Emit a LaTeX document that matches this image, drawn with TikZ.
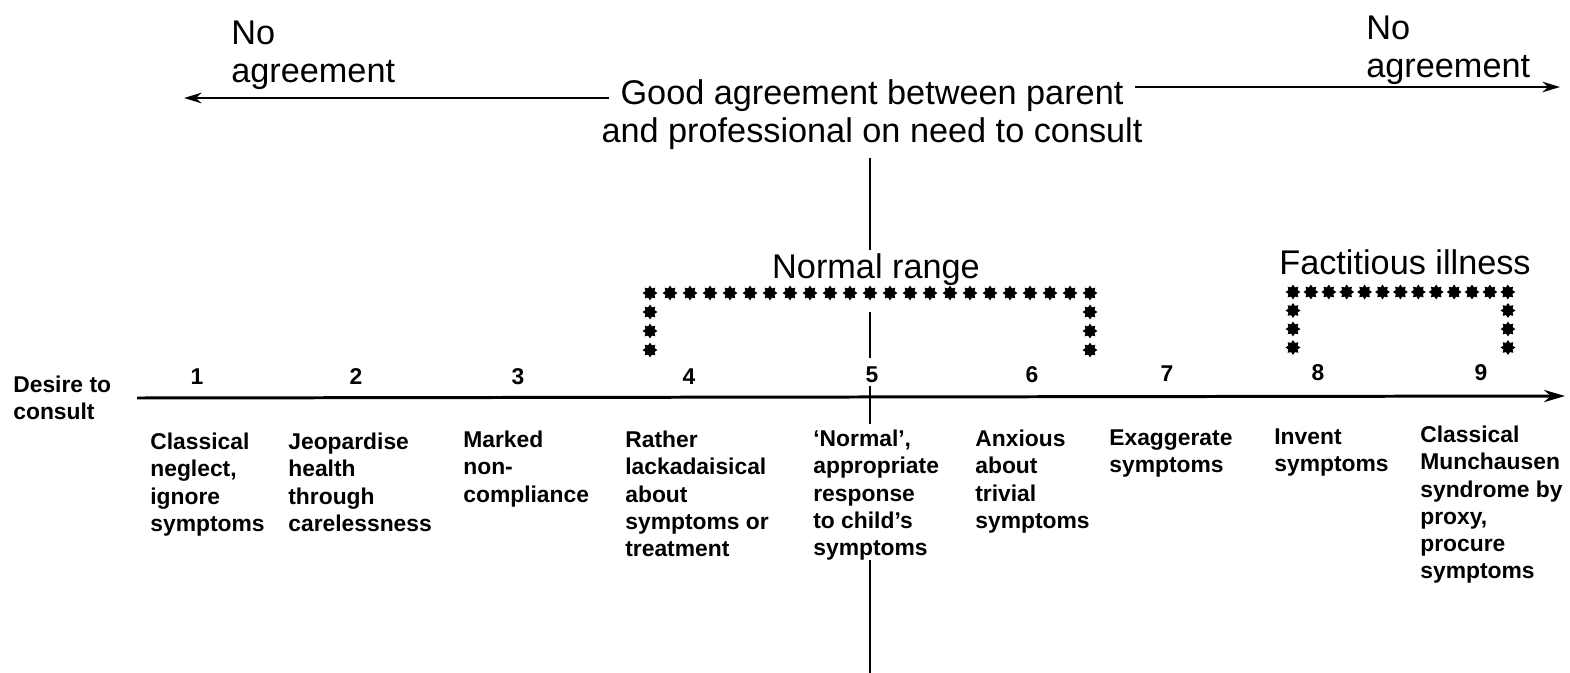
\documentclass[tikz,border=0pt]{standalone}
\usepackage{fontspec}
\setmainfont{Liberation Sans}
\usetikzlibrary{shapes.geometric,arrows.meta}

\tikzset{
  starmark/.style={star, star points=8, star point ratio=1.5, fill, draw=none, inner sep=0pt, minimum size=8.5pt},
  thinarrow/.style={line width=1.4pt, -{Stealth[length=10pt,width=6pt]}},
  axisarrow/.style={line width=1.7pt, -{Stealth[length=12pt,width=7pt]}}
}

\begin{document}
\begin{tikzpicture}[x=0.02cm,y=-0.02cm]

      \useasboundingbox (0,0) rectangle (1570,673);

      % headings
      \begin{scope}[every node/.style={font=\fontsize{19.5}{21.5}\selectfont, inner sep=0pt}]
        \node[align=left, anchor=west] (noleft)  at (231,55) {No\\agreement};
        \node[align=left, anchor=west] (noright) at (1366,50) {No\\agreement};
        \node[align=center] (good)   at (872,115) {Good agreement between parent\\and professional on need to consult};
        \node (normal) at (876,270) {Normal range};
        \node (fact)   at (1405,262) {Factitious illness};
      \end{scope}

      \coordinate (lstart) at (609,98);
      \coordinate (lend)   at (184,98);
      \coordinate (rstart) at (1135,87);
      \coordinate (rend)   at (1560,87);
      \coordinate (axstart) at (137,398);
      \coordinate (axend)   at (1565,396);

      \draw[thinarrow] (lstart) -- (lend);
      \draw[thinarrow] (rstart) -- (rend);
      \draw[axisarrow] (axstart) -- (axend);

      % centre line
      \coordinate (v1) at (870,158);
      \coordinate (v2) at (870,250);
      \coordinate (v3) at (870,312);
      \coordinate (v4) at (870,358);
      \coordinate (v5) at (870,386);
      \coordinate (v6) at (870,424);
      \coordinate (v7) at (870,560);
      \coordinate (v8) at (870,673);
      \begin{scope}[line width=1.6pt]
        \draw (v1) -- (v2);
        \draw (v3) -- (v4);
        \draw (v5) -- (v6);
        \draw (v7) -- (v8);
      \end{scope}

      % star brackets
      \foreach \i in {0,...,22}
        \node[starmark] (ns\i) at (650+20*\i,293) {};
      \foreach \j in {1,2,3} {
        \node[starmark] (nl\j) at (650,293+19*\j) {};
        \node[starmark] (nr\j) at (1090,293+19*\j) {};
      }
      \foreach \i in {0,...,12}
        \node[starmark] (fs\i) at (1293+17.9*\i,292) {};
      \foreach \j in {1,2,3} {
        \node[starmark] (fl\j) at (1293,292+18.5*\j) {};
        \node[starmark] (fr\j) at (1508,292+18.5*\j) {};
      }

      % scale
      \begin{scope}[every node/.style={font=\fontsize{13}{15.4}\selectfont\bfseries, inner sep=0pt}]
        \node[align=left, anchor=north west] (desire) at (13,376) {Desire to\\consult};
        \node (1) at (197,377) {1};
        \node (2) at (356,377) {2};
        \node (3) at (518,377) {3};
        \node (4) at (689,377) {4};
        \node (5) at (872,375) {5};
        \node (6) at (1032,375) {6};
        \node (7) at (1167,374) {7};
        \node (8) at (1318,373) {8};
        \node (9) at (1481,373) {9};
      \end{scope}

      \begin{scope}[every node/.style={font=\fontsize{13}{15.4}\selectfont\bfseries, inner sep=0pt, align=left, anchor=north west}]
        \node (d1) at (150,433) {Classical\\neglect,\\ignore\\symptoms};
        \node (d2) at (288,433) {Jeopardise\\health\\through\\carelessness};
        \node (d3) at (463,431) {Marked\\non-\\compliance};
        \node (d4) at (625,431) {Rather\\lackadaisical\\about\\symptoms or\\treatment};
        \node (d5) at (813,430) {`Normal',\\appropriate\\response\\to child's\\symptoms};
        \node (d6) at (975,430) {Anxious\\about\\trivial\\symptoms};
        \node (d7) at (1109,429) {Exaggerate\\symptoms};
        \node (d8) at (1274,428) {Invent\\symptoms};
        \node (d9) at (1420,426) {Classical\\Munchausen\\syndrome by\\proxy,\\procure\\symptoms};
      \end{scope}

    \end{tikzpicture}
\end{document}
